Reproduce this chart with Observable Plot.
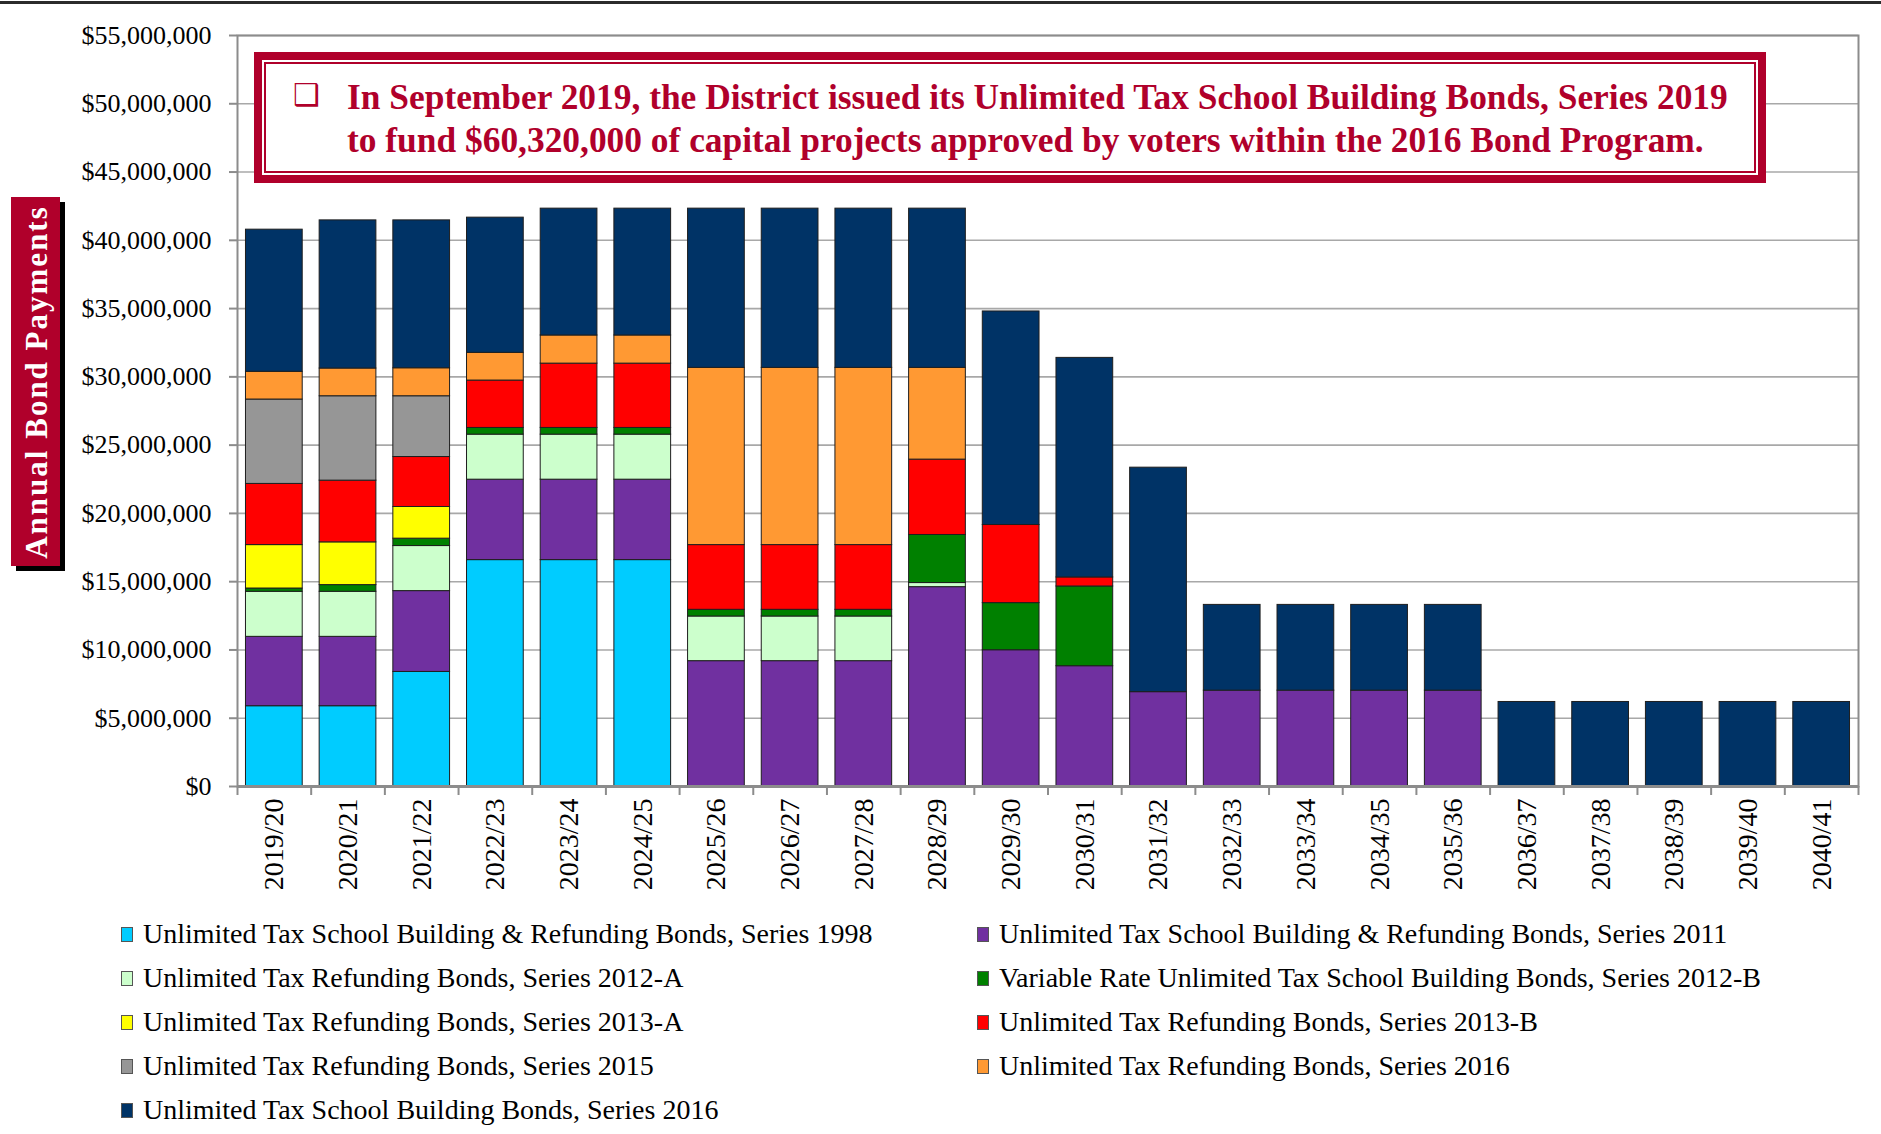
<!DOCTYPE html>
<html>
<head>
<meta charset="utf-8">
<script src="https://cdn.jsdelivr.net/npm/d3@7"></script>
<script src="https://cdn.jsdelivr.net/npm/@observablehq/plot@0.6"></script>
<style>
  html, body { margin: 0; padding: 0; background: #fff; }
  #wrap { position: relative; width: 1881px; height: 1134px; overflow: hidden; font-family: "Liberation Serif", serif; }
  #topline { position: absolute; left: 0; top: 1px; width: 1881px; height: 3px; background: #2b2b2b; }
  #chart svg { display: block; }
  #ytitle { position: absolute; left: 11px; top: 197px; width: 49px; height: 369px; background: #B0002B; box-shadow: 5px 5px 0 #000; }
  #ytitle span { position: absolute; left: 50%; top: 50%; transform: translate(-50%, -50%) rotate(-90deg); white-space: nowrap; color: #fff; font-weight: bold; font-size: 31px; letter-spacing: 2px; line-height: 1; }
  #note { position: absolute; left: 254px; top: 52px; width: 1512px; height: 131px; box-sizing: border-box; border: 8px solid #B0002B; background: #fff; padding: 2px; }
  #note .inner { position: relative; width: 100%; height: 100%; box-sizing: border-box; border: 2px solid #B0002B; }
  #note .line { position: absolute; white-space: nowrap; color: #B0002B; font-weight: bold; font-size: 35.4px; line-height: 43px; }
  #note .bullet { position: absolute; color: #B0002B; font-family: "DejaVu Sans", sans-serif; font-size: 30px; line-height: 30px; }
  #legend { position: absolute; left: 0; top: 911.5px; width: 1881px; }
  .lrow { position: absolute; height: 44.15px; line-height: 44.15px; font-size: 28px; white-space: nowrap; color: #000; }
  .sw { display: inline-block; width: 12px; height: 15px; box-sizing: border-box; border: 1.5px solid #555; margin-right: 10px; margin-bottom: 1px; vertical-align: baseline; }
</style>
</head>
<body>
<div id="wrap">
  <div id="chart"></div>
  <div id="topline"></div>
  <div id="ytitle"><span></span></div>
  <div id="note"><div class="inner"></div></div>
  <div id="legend"></div>
</div>
<script>
// ---------- DATA ----------
const years = ["2019/20","2020/21","2021/22","2022/23","2023/24","2024/25","2025/26","2026/27","2027/28","2028/29","2029/30","2030/31","2031/32","2032/33","2033/34","2034/35","2035/36","2036/37","2037/38","2038/39","2039/40","2040/41"];

const seriesNames = [
  "Unlimited Tax School Building & Refunding Bonds, Series 1998",
  "Unlimited Tax School Building & Refunding Bonds, Series 2011",
  "Unlimited Tax Refunding Bonds, Series 2012-A",
  "Variable Rate Unlimited Tax School Building Bonds, Series 2012-B",
  "Unlimited Tax Refunding Bonds, Series 2013-A",
  "Unlimited Tax Refunding Bonds, Series 2013-B",
  "Unlimited Tax Refunding Bonds, Series 2015",
  "Unlimited Tax Refunding Bonds, Series 2016",
  "Unlimited Tax School Building Bonds, Series 2016"
];
const seriesColors = ["#00CCFF","#7030A0","#CCFFCC","#008000","#FFFF00","#FF0000","#969696","#FF9933","#003366"];

// values in $ millions, one per fiscal year
const s1998  = [5.88, 5.88, 8.39, 16.58, 16.58, 16.58, 0, 0, 0, 0, 0, 0, 0, 0, 0, 0, 0, 0, 0, 0, 0, 0];
const s2011  = [5.08, 5.08, 5.92, 5.89, 5.89, 5.89, 9.18, 9.18, 9.18, 14.60, 9.98, 8.81, 6.91, 7.02, 7.02, 7.02, 7.02, 0, 0, 0, 0, 0];
const s2012A = [3.30, 3.30, 3.30, 3.30, 3.30, 3.30, 3.27, 3.27, 3.27, 0.30, 0, 0, 0, 0, 0, 0, 0, 0, 0, 0, 0, 0];
const s2012B = [0.24, 0.49, 0.54, 0.49, 0.49, 0.49, 0.49, 0.49, 0.49, 3.52, 3.45, 5.84, 0, 0, 0, 0, 0, 0, 0, 0, 0, 0];
const s2013A = [3.18, 3.13, 2.32, 0, 0, 0, 0, 0, 0, 0, 0, 0, 0, 0, 0, 0, 0, 0, 0, 0, 0, 0];
const s2013B = [4.48, 4.52, 3.66, 3.47, 4.71, 4.71, 4.74, 4.74, 4.74, 5.52, 5.72, 0.66, 0, 0, 0, 0, 0, 0, 0, 0, 0, 0];
const s2015  = [6.18, 6.18, 4.45, 0, 0, 0, 0, 0, 0, 0, 0, 0, 0, 0, 0, 0, 0, 0, 0, 0, 0, 0];
const s2016R = [2.03, 2.03, 2.05, 2.03, 2.06, 2.06, 12.98, 12.98, 12.98, 6.72, 0, 0, 0, 0, 0, 0, 0, 0, 0, 0, 0, 0];
const s2016B = [10.41, 10.85, 10.83, 9.90, 9.29, 9.29, 11.66, 11.66, 11.66, 11.66, 15.64, 16.08, 16.44, 6.28, 6.28, 6.28, 6.28, 6.19, 6.19, 6.19, 6.19, 6.19];

const yTicks = [0, 5e6, 10e6, 15e6, 20e6, 25e6, 30e6, 35e6, 40e6, 45e6, 50e6, 55e6];

const yTitle = "Annual Bond Payments";
const noteLines = [
  "In September 2019, the District issued its Unlimited Tax School Building Bonds, Series 2019",
  "to fund $60,320,000 of capital projects approved by voters within the 2016 Bond Program."
];

// ---------- BUILD ----------
const seriesValues = [s1998, s2011, s2012A, s2012B, s2013A, s2013B, s2015, s2016R, s2016B];
const rows = [];
years.forEach((yr, i) => {
  seriesNames.forEach((name, j) => {
    const v = seriesValues[j][i];
    if (v > 0) rows.push({year: yr, series: name, value: v * 1e6});
  });
});

const W = 1881, H = 900, MT = 35, MB = 114, ML = 237, MR = 23;
const step = (W - ML - MR) / years.length;
const plotH = H - MT - MB;
const axisGray = "#8c8c8c";

const chart = Plot.plot({
  width: W, height: H,
  marginTop: MT, marginBottom: MB, marginLeft: ML, marginRight: MR,
  style: {fontFamily: "'Liberation Serif', serif", background: "transparent", color: "#000", overflow: "visible"},
  x: {domain: years, paddingInner: 0.23, paddingOuter: 0.115, round: false, label: null},
  y: {domain: [0, 55e6], label: null},
  color: {domain: seriesNames, range: seriesColors},
  marks: [
    Plot.ruleY(yTicks, {stroke: "#a8a8a8", strokeWidth: 1.6}),
    Plot.barY(rows, {x: "year", y: "value", fill: "series", stroke: "#1e1e1e", strokeWidth: 1, order: seriesNames}),
    Plot.frame({stroke: axisGray, strokeWidth: 2}),
    Plot.ruleY([0], {stroke: axisGray, strokeWidth: 3}),
    Plot.ruleX(years, {x: d => d, dx: -step / 2, insetTop: plotH, insetBottom: -9, stroke: axisGray, strokeWidth: 2}),
    Plot.ruleX([years[years.length - 1]], {x: d => d, dx: step / 2, insetTop: plotH, insetBottom: -9, stroke: axisGray, strokeWidth: 2}),
    Plot.axisY({ticks: yTicks, tickFormat: d => "$" + d3.format(",")(d), tickSize: 8, tickPadding: 18, fontSize: 26, stroke: axisGray, strokeWidth: 2, label: null}),
    Plot.axisX({tickRotate: -90, tickSize: 0, tickPadding: 12, fontSize: 28, label: null})
  ]
});
document.getElementById("chart").appendChild(chart);

// y-axis title box
document.querySelector("#ytitle span").textContent = yTitle;

// annotation box
const inner = document.querySelector("#note .inner");
const bullet = document.createElement("div");
bullet.className = "bullet";
bullet.textContent = "\u2751";
bullet.style.left = (293 - 254 - 12) + "px";
bullet.style.top = (80 - 52 - 12) + "px";
inner.appendChild(bullet);
noteLines.forEach((t, i) => {
  const d = document.createElement("div");
  d.className = "line";
  d.textContent = t;
  d.style.left = (347 - 254 - 12) + "px";
  d.style.top = (75.8 - 52 - 12 + i * 43) + "px";
  inner.appendChild(d);
});

// legend (two columns, row-major)
const legend = document.getElementById("legend");
const colX = [121, 977];
seriesNames.forEach((name, k) => {
  const r = Math.floor(k / 2), c = k % 2;
  const row = document.createElement("div");
  row.className = "lrow";
  row.style.left = colX[c] + "px";
  row.style.top = (r * 44.15) + "px";
  const sw = document.createElement("span");
  sw.className = "sw";
  sw.style.background = seriesColors[k];
  row.appendChild(sw);
  row.appendChild(document.createTextNode(name));
  legend.appendChild(row);
});
</script>
</body>
</html>
